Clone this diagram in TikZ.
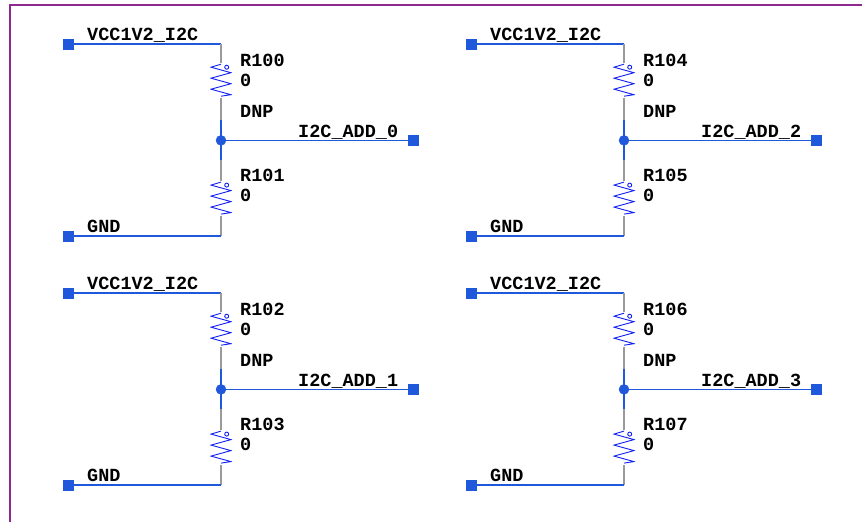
\documentclass[tikz,border=0pt]{standalone}
\usepackage{fontspec}
\setmonofont{Liberation Mono}
\usepackage{tikz}
\usetikzlibrary{positioning}
\usetikzlibrary{calc}
\definecolor{netblue}{HTML}{2058DC}
\definecolor{zigblue}{HTML}{1020F0}
\definecolor{pingray}{HTML}{9A9A9A}
\definecolor{framepurple}{HTML}{8E2A8E}

\tikzset{
    port/.style = {draw=netblue, fill=netblue, minimum size=10pt, inner sep=0pt},
    dot/.style = {draw=netblue, fill=netblue, circle, minimum size=10pt, inner sep=0pt},
    net/.style = {draw=netblue, line width=1.5pt},
    pin/.style = {draw=pingray, line width=1.2pt},
    txt/.style = {anchor=base west, inner sep=0pt, text=black, font=\ttfamily\bfseries\fontsize{18.5}{20}\selectfont},
    res/.style = {minimum width=22pt, minimum height=35pt, inner sep=0pt, path picture={
        \draw[zigblue, line width=0.9pt] ([yshift=-1pt]path picture bounding box.north)
            -- ++(-10,3) -- ++(20,5.5) -- ++(-20,5.5) -- ++(20,5.5) -- ++(-20,5.5) -- ++(20,5.5) -- ++(-10,1.5);
        \draw[zigblue, line width=0.9pt] ([xshift=5.7pt,yshift=-4pt]path picture bounding box.north) circle (2pt);
    }}
}

\begin{document}
\begin{tikzpicture}[x=1pt, y=-1pt]
    \useasboundingbox (0,0) rectangle (862,522);
    \draw[framepurple, line width=1.6pt] (862,5) -- (10.2,5) -- (10.2,522);

    % I2C_ADD_0
    \node[port] (vcc0) at (68,44) {};
    \node[port] (gnd0) at (68,236) {};
    \coordinate (top0) at (221,44);
    \coordinate (bot0) at (221,236);
    \node[res, below=19pt of top0] (r100) {};
    \coordinate[below=22pt of r100] (pina0);
    \node[dot, below=20pt of pina0, anchor=center] (j0) {};
    \coordinate[below=20pt of j0.center] (pinb0);
    \node[res, below=20.5pt of pinb0] (r101) {};
    \node[port, right=192pt of j0.center, anchor=center] (add0) {};
    \draw[net] (vcc0) -- (top0);
    \draw[pin] (top0) -- (r100.north);
    \draw[pin] (r100.south) -- (pina0);
    \draw[net] (pina0) -- (pinb0);
    \draw[pin] (pinb0) -- (r101.north);
    \draw[pin] (r101.south) -- (bot0);
    \draw[net] (bot0) -- (gnd0);
    \draw[net] (j0) -- (add0);
    \node[txt] (vcclbl0) at ($(vcc0)+(19,-4)$) {VCC1V2\_I2C};
    \node[txt] (gndlbl0) at ($(gnd0)+(19,-4)$) {GND};
    \node[txt] (addlbl0) at ($(j0)+(77,-3)$) {I2C\_ADD\_0};
    \node[txt] (rn100) at ($(r100)+(19,-14.5)$) {R100};
    \node[txt] (rv100) at ($(r100)+(19,5.5)$) {0};
    \node[txt] (dnp0) at ($(r100)+(19,36.5)$) {DNP};
    \node[txt] (rn101) at ($(r101)+(19,-17.5)$) {R101};
    \node[txt] (rv101) at ($(r101)+(19,2.5)$) {0};

    % I2C_ADD_1
    \node[port] (vcc1) at (68,293) {};
    \node[port] (gnd1) at (68,485) {};
    \coordinate (top1) at (221,293);
    \coordinate (bot1) at (221,485);
    \node[res, below=19pt of top1] (r102) {};
    \coordinate[below=22pt of r102] (pina1);
    \node[dot, below=20pt of pina1, anchor=center] (j1) {};
    \coordinate[below=20pt of j1.center] (pinb1);
    \node[res, below=20.5pt of pinb1] (r103) {};
    \node[port, right=192pt of j1.center, anchor=center] (add1) {};
    \draw[net] (vcc1) -- (top1);
    \draw[pin] (top1) -- (r102.north);
    \draw[pin] (r102.south) -- (pina1);
    \draw[net] (pina1) -- (pinb1);
    \draw[pin] (pinb1) -- (r103.north);
    \draw[pin] (r103.south) -- (bot1);
    \draw[net] (bot1) -- (gnd1);
    \draw[net] (j1) -- (add1);
    \node[txt] (vcclbl1) at ($(vcc1)+(19,-4)$) {VCC1V2\_I2C};
    \node[txt] (gndlbl1) at ($(gnd1)+(19,-4)$) {GND};
    \node[txt] (addlbl1) at ($(j1)+(77,-3)$) {I2C\_ADD\_1};
    \node[txt] (rn102) at ($(r102)+(19,-14.5)$) {R102};
    \node[txt] (rv102) at ($(r102)+(19,5.5)$) {0};
    \node[txt] (dnp1) at ($(r102)+(19,36.5)$) {DNP};
    \node[txt] (rn103) at ($(r103)+(19,-17.5)$) {R103};
    \node[txt] (rv103) at ($(r103)+(19,2.5)$) {0};

    % I2C_ADD_2
    \node[port] (vcc2) at (471,44) {};
    \node[port] (gnd2) at (471,236) {};
    \coordinate (top2) at (624,44);
    \coordinate (bot2) at (624,236);
    \node[res, below=19pt of top2] (r104) {};
    \coordinate[below=22pt of r104] (pina2);
    \node[dot, below=20pt of pina2, anchor=center] (j2) {};
    \coordinate[below=20pt of j2.center] (pinb2);
    \node[res, below=20.5pt of pinb2] (r105) {};
    \node[port, right=192pt of j2.center, anchor=center] (add2) {};
    \draw[net] (vcc2) -- (top2);
    \draw[pin] (top2) -- (r104.north);
    \draw[pin] (r104.south) -- (pina2);
    \draw[net] (pina2) -- (pinb2);
    \draw[pin] (pinb2) -- (r105.north);
    \draw[pin] (r105.south) -- (bot2);
    \draw[net] (bot2) -- (gnd2);
    \draw[net] (j2) -- (add2);
    \node[txt] (vcclbl2) at ($(vcc2)+(19,-4)$) {VCC1V2\_I2C};
    \node[txt] (gndlbl2) at ($(gnd2)+(19,-4)$) {GND};
    \node[txt] (addlbl2) at ($(j2)+(77,-3)$) {I2C\_ADD\_2};
    \node[txt] (rn104) at ($(r104)+(19,-14.5)$) {R104};
    \node[txt] (rv104) at ($(r104)+(19,5.5)$) {0};
    \node[txt] (dnp2) at ($(r104)+(19,36.5)$) {DNP};
    \node[txt] (rn105) at ($(r105)+(19,-17.5)$) {R105};
    \node[txt] (rv105) at ($(r105)+(19,2.5)$) {0};

    % I2C_ADD_3
    \node[port] (vcc3) at (471,293) {};
    \node[port] (gnd3) at (471,485) {};
    \coordinate (top3) at (624,293);
    \coordinate (bot3) at (624,485);
    \node[res, below=19pt of top3] (r106) {};
    \coordinate[below=22pt of r106] (pina3);
    \node[dot, below=20pt of pina3, anchor=center] (j3) {};
    \coordinate[below=20pt of j3.center] (pinb3);
    \node[res, below=20.5pt of pinb3] (r107) {};
    \node[port, right=192pt of j3.center, anchor=center] (add3) {};
    \draw[net] (vcc3) -- (top3);
    \draw[pin] (top3) -- (r106.north);
    \draw[pin] (r106.south) -- (pina3);
    \draw[net] (pina3) -- (pinb3);
    \draw[pin] (pinb3) -- (r107.north);
    \draw[pin] (r107.south) -- (bot3);
    \draw[net] (bot3) -- (gnd3);
    \draw[net] (j3) -- (add3);
    \node[txt] (vcclbl3) at ($(vcc3)+(19,-4)$) {VCC1V2\_I2C};
    \node[txt] (gndlbl3) at ($(gnd3)+(19,-4)$) {GND};
    \node[txt] (addlbl3) at ($(j3)+(77,-3)$) {I2C\_ADD\_3};
    \node[txt] (rn106) at ($(r106)+(19,-14.5)$) {R106};
    \node[txt] (rv106) at ($(r106)+(19,5.5)$) {0};
    \node[txt] (dnp3) at ($(r106)+(19,36.5)$) {DNP};
    \node[txt] (rn107) at ($(r107)+(19,-17.5)$) {R107};
    \node[txt] (rv107) at ($(r107)+(19,2.5)$) {0};
\end{tikzpicture}
\end{document}
